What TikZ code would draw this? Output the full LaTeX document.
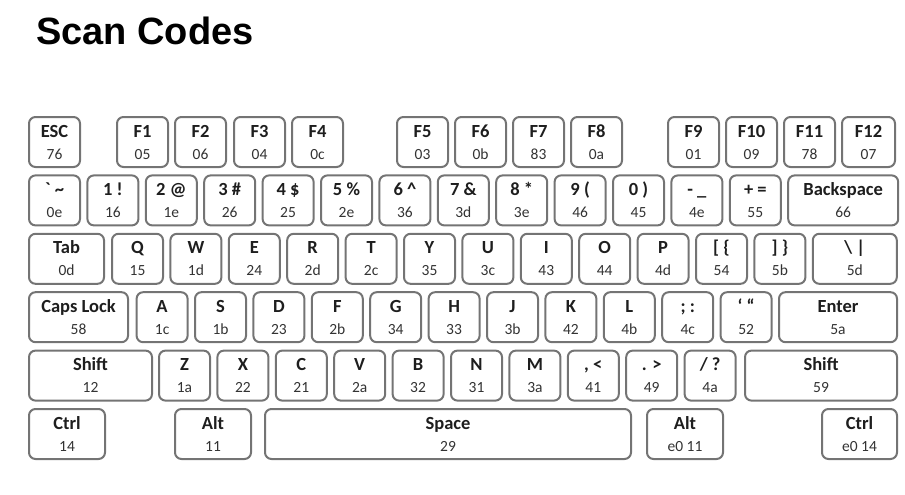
\documentclass[tikz,border=0pt]{standalone}
\usepackage{fontspec}
\setmainfont{Carlito}
\newfontfamily\headfont{Liberation Sans}
\usetikzlibrary{positioning}
\definecolor{kgrey}{HTML}{747474}
\definecolor{ktext}{HTML}{1E1E1E}
\definecolor{kcode}{HTML}{333333}
\tikzset{
  every picture/.style={x=1pt, y=-1pt},
  keycap/.style={draw=kgrey, fill=white, line width=2pt, rounded corners=6.5pt, anchor=north west,
                 minimum height=50pt, inner sep=0pt},
  keylabel/.style={font=\fontsize{18.5}{20}\selectfont\bfseries, text=ktext, anchor=base, inner sep=0pt},
  keycode/.style={font=\fontsize{15.5}{17}\selectfont, text=kcode, anchor=base, inner sep=0pt},
  title/.style={font=\headfont\bfseries\fontsize{38}{40}\selectfont, anchor=base west, inner sep=0pt},
}

\begin{document}
\begin{tikzpicture}
  \useasboundingbox (0,0) rectangle (905,495);
  % one row of keys: #1 row name, #2 top y, #3 list of label/code/left x/width
  \newcommand{\keyrow}[3]{%
    \foreach \t/\c/\x/\w [count=\i] in {#3} {
      \node[keycap, minimum width=\w*1pt] (#1-\i) at (\x,#2) {};
      \node[keylabel] (#1-\i-t) at ([yshift=-21pt]#1-\i.north) {\t};
      \node[keycode] (#1-\i-c) at ([yshift=-43pt]#1-\i.north) {\c};
    }
  }
  \node[title] (title) at (36,45) {Scan Codes};
  % function keys
  \keyrow{fn}{116}{ESC/76/28/51, F1/05/116/51, F2/06/174/51, F3/04/233/51, F4/0c/291/51,
    F5/03/396/51, F6/0b/454/51, F7/83/512/51, F8/0a/570/51,
    F9/01/667/51, F10/09/725/51, F11/78/783/51, F12/07/841/53}
  % number row
  \keyrow{num}{174.4}{\textasciigrave\ \textasciitilde/0e/28/51, 1 !/16/86.4/51, 2 @/1e/144.8/51,
    3 \#/26/203.2/51, 4 \$/25/261.6/51, 5 \%/2e/320/51, 6 \textasciicircum/36/378.4/51,
    7 \&/3d/436.8/51, 8 */3e/495.2/51, 9 (/46/553.6/51, 0 )/45/612/51, - \_/4e/670.4/51,
    + =/55/728.8/51, Backspace/66/787.2/110}
  % top letter row
  \keyrow{top}{232.8}{Tab/0d/28/75, Q/15/111/51, W/1d/169.4/51, E/24/227.8/51, R/2d/286.2/51,
    T/2c/344.6/51, Y/35/403/51, U/3c/461.4/51, I/43/519.8/51, O/44/578.2/51, P/4d/636.6/51,
    [ \{/54/695/51, ] \}/5b/753.4/51, \textbackslash\ |/5d/811.8/84}
  % home row
  \keyrow{home}{291.2}{Caps Lock/58/28/99, A/1c/135.6/51, S/1b/194/51, D/23/252.4/51,
    F/2b/310.8/51, G/34/369.2/51, H/33/427.6/51, J/3b/486/51, K/42/544.4/51, L/4b/602.8/51,
    ; :/4c/661.2/51, ‘ “/52/719.6/51, Enter/5a/778/118}
  % bottom letter row
  \keyrow{low}{349.6}{Shift/12/28/123, Z/1a/158/51, X/22/216.4/51, C/21/274.8/51, V/2a/333.2/51,
    B/32/391.6/51, N/31/450/51, M/3a/508.4/51, {, <}/41/566.8/51, . >/49/625.2/51,
    {/ ?}/4a/683.6/51, Shift/59/744/152}
  % space bar row
  \keyrow{mod}{408}{Ctrl/14/28/76, Alt/11/174/76, Space/29/264/366, Alt/e0 11/646/76,
    Ctrl/e0 14/821/75}
\end{tikzpicture}
\end{document}
